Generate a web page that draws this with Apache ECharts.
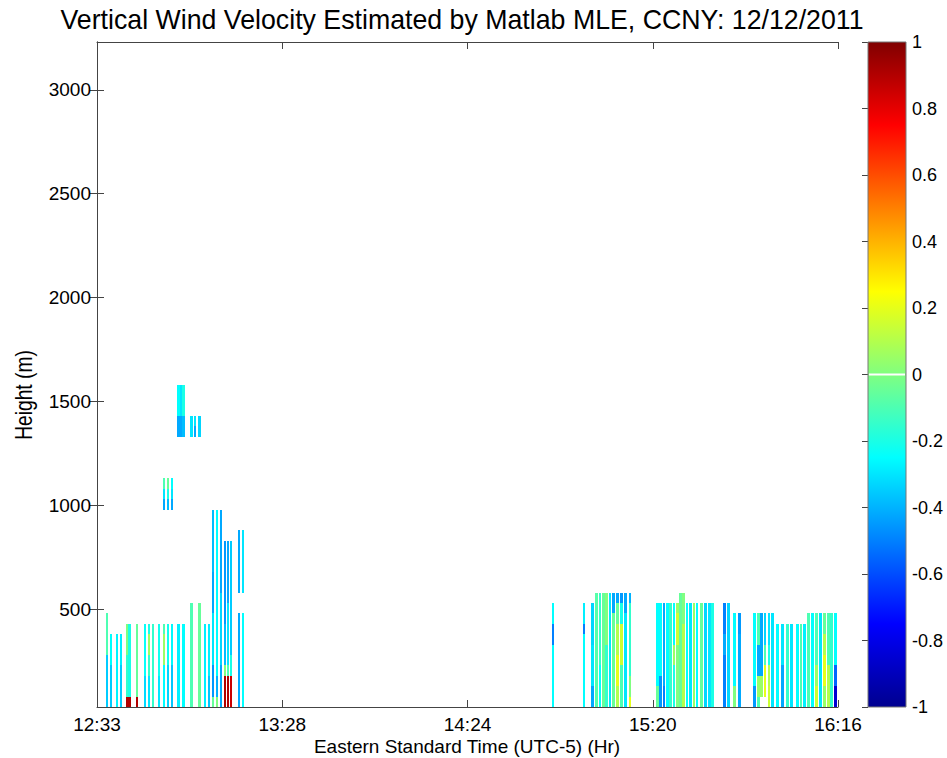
<!DOCTYPE html>
<html>
<head>
<meta charset="utf-8">
<script src="https://cdn.jsdelivr.net/npm/echarts@6/dist/echarts.min.js"></script>
<style>
  html, body { margin: 0; padding: 0; background: #fff; }
  #chart { width: 947px; height: 758px; }
</style>
</head>
<body>
<div id="chart"></div>
<script>
// Lidar vertical wind velocity (m/s), CCNY, 12 Dec 2011.
// Each profile: time in minutes after 12:33 EST, and a stack of range
// segments [segment top height (m), velocity] starting from the lowest gate.
// A null velocity marks gates with no retrieval.
const baseHeight = 30;

const profileTimes = [
  3.0, 4.2, 6.0, 7.2, 9.0, 9.8, 12.0, 14.4, 15.6, 16.9,
  18.7, 20.2, 21.4, 22.6, 24.5, 25.3, 26.0, 28.4, 29.5, 30.8,
  32.5, 33.7, 34.9, 36.1, 37.3, 38.5, 39.4, 40.3, 42.7, 43.9,
  137.2, 146.6, 149.1, 150.4, 151.4, 152.4, 153.4, 154.4, 155.4, 156.6,
  157.8, 159.0, 160.4, 168.6, 169.6, 170.6, 171.6, 172.6, 173.6, 174.6,
  175.7, 176.6, 177.6, 178.7, 179.7, 180.6, 181.9, 183.1, 184.3, 185.3,
  188.8, 190.0, 191.8, 193.3, 197.8, 199.0, 200.0, 201.0, 202.2, 203.2,
  204.8, 206.3, 207.9, 209.0, 210.9, 211.9, 212.9, 214.1, 215.3, 216.6,
  217.8, 218.9, 220.1, 221.1, 222.3
];

const profileSegments = [
  [[280, -0.35], [480, -0.1]],
  [[230, -0.35], [380, -0.25]],
  [[380, -0.27]],
  [[230, -0.35], [380, -0.28]],
  [[80, 0.9], [280, -0.15], [430, 0.0]],
  [[80, 0.9], [430, -0.2]],
  [[80, 0.9], [430, -0.05]],
  [[180, -0.32], [430, -0.24]],
  [[180, -0.3], [280, -0.15], [380, 0.05], [430, -0.2]],
  [[430, -0.15]],
  [[180, -0.3], [430, -0.22]],
  [[230, -0.25], [380, 0.05], [430, -0.1], [980, null], [1030, -0.42], [1080, -0.3], [1130, -0.1]],
  [[230, -0.33], [430, -0.22], [980, null], [1030, -0.38], [1080, -0.2], [1130, -0.05]],
  [[230, -0.36], [430, -0.26], [980, null], [1030, -0.42], [1080, -0.3], [1130, -0.25]],
  [[430, -0.28], [1330, null], [1430, -0.42], [1580, -0.25]],
  [[1330, null], [1430, -0.42], [1580, -0.3]],
  [[430, -0.25], [1330, null], [1430, -0.38], [1580, -0.2]],
  [[530, -0.1], [1330, null], [1430, -0.3]],
  [[1330, null], [1380, -0.42], [1430, -0.3]],
  [[530, -0.05], [1330, null], [1430, -0.33]],
  [[430, -0.28]],
  [[180, -0.36], [430, -0.28]],
  [[80, -0.05], [230, -0.45], [480, -0.3], [680, -0.42], [980, -0.38]],
  [[80, 0.0], [180, -0.4], [980, -0.25]],
  [[230, -0.42], [580, -0.33], [980, -0.42]],
  [[180, 0.9], [230, 0.0], [430, -0.38], [830, -0.45]],
  [[180, 0.9], [230, -0.1], [530, -0.3], [830, -0.42]],
  [[180, 0.85], [280, -0.2], [830, -0.35]],
  [[480, -0.42], [580, null], [880, -0.42]],
  [[480, -0.25], [580, null], [880, -0.3]],
  [[330, -0.25], [430, -0.5], [530, -0.25]],
  [[380, -0.25], [430, -0.5], [530, -0.28]],
  [[130, -0.42], [330, -0.3], [530, -0.33]],
  [[580, -0.08]],
  [[230, -0.25], [580, -0.15]],
  [[580, -0.05]],
  [[330, -0.15], [580, 0.0]],
  [[580, -0.3]],
  [[480, -0.05], [580, -0.42]],
  [[130, 0.1], [280, 0.2], [430, 0.1], [530, -0.05], [580, -0.42]],
  [[230, -0.1], [430, 0.15], [530, -0.2], [580, -0.45]],
  [[480, -0.3], [580, -0.42]],
  [[80, 0.2], [180, 0.0], [530, -0.15], [580, -0.4]],
  [[130, -0.05], [530, -0.25]],
  [[180, -0.45], [530, -0.25]],
  [[130, -0.5], [530, -0.42]],
  [[530, -0.25]],
  [[530, -0.15]],
  [[230, -0.2], [330, 0.05], [530, -0.25]],
  [[330, 0.0], [480, 0.15], [530, 0.05]],
  [[580, -0.05]],
  [[430, 0.1], [580, 0.0]],
  [[530, -0.25]],
  [[530, -0.3]],
  [[530, 0.05]],
  [[530, -0.25]],
  [[530, -0.05]],
  [[530, -0.33]],
  [[530, -0.3]],
  [[530, -0.2]],
  [[280, -0.5], [380, -0.42], [530, -0.5]],
  [[530, -0.33]],
  [[130, 0.0], [480, -0.25]],
  [[380, -0.42], [480, -0.45]],
  [[130, -0.45], [480, -0.25]],
  [[80, -0.1], [180, 0.05], [330, -0.42], [480, -0.1]],
  [[80, null], [180, 0.05], [480, -0.42]],
  [[80, null], [230, 0.2], [330, -0.1], [480, -0.33]],
  [[130, 0.15], [230, 0.1], [330, -0.2], [480, -0.3]],
  [[480, -0.3]],
  [[430, -0.25]],
  [[230, -0.42], [430, -0.3]],
  [[430, -0.15]],
  [[430, -0.3]],
  [[430, -0.25]],
  [[430, -0.1]],
  [[430, -0.28]],
  [[480, -0.1]],
  [[480, -0.25]],
  [[130, 0.15], [230, 0.05], [480, -0.1]],
  [[480, -0.3]],
  [[130, 0.05], [280, 0.2], [380, 0.1], [480, -0.05]],
  [[230, 0.1], [480, -0.1]],
  [[480, -0.15]],
  [[130, -0.85], [230, -0.55], [480, -0.25]]
];

// Axis ranges and tick labels
const timeRange = [0, 223];            // minutes after 12:33
const timeTickStep = 55.75;
const timeTickLabels = ['12:33', '13:28', '14:24', '15:20', '16:16'];
const heightRange = [30, 3230];
const heightTicks = [500, 1000, 1500, 2000, 2500, 3000];
const velocityRange = [-1, 1];
const velocityTickStep = 0.2;

// MATLAB "jet" colour map, evenly spaced over [-1, 1]
const jetColors = ['#00008f', '#0000ff', '#0080ff', '#00ffff', '#80ff80',
                   '#ffff00', '#ff8000', '#ff0000', '#800000'];

// Flatten the profiles into rectangles: [time, bottom, top, velocity]
const cells = [];
profileTimes.forEach(function (t, i) {
  let bottom = baseHeight;
  profileSegments[i].forEach(function (seg) {
    if (seg[1] !== null) cells.push([t, bottom, seg[0], seg[1]]);
    bottom = seg[0];
  });
});

const stripeHalfWidth = 0.4;   // minutes
const fontFamily = 'Liberation Sans, Arial, Helvetica, sans-serif';
const axisColor = '#444';
const textColor = '#000';

function renderCell(params, api) {
  const t = api.value(0);
  const p0 = api.coord([t - stripeHalfWidth, api.value(1)]);
  const p1 = api.coord([t + stripeHalfWidth, api.value(2)]);
  const x0 = Math.round(p0[0]);
  const x1 = Math.max(x0 + 2, Math.round(p1[0]));
  const yb = Math.round(p0[1]);
  const yt = Math.round(p1[1]);
  return {
    type: 'rect',
    shape: { x: x0, y: yt, width: x1 - x0, height: yb - yt },
    style: { fill: api.visual('color') }
  };
}

function renderColorbar(params, api) {
  const a = api.coord([0, velocityRange[0]]);
  const b = api.coord([1, velocityRange[1]]);
  const z0 = api.coord([0, 0]);
  const z1 = api.coord([1, 0]);
  const stops = jetColors.map(function (c, i) {
    return { offset: i / (jetColors.length - 1), color: c };
  });
  return {
    type: 'group',
    children: [
      {
        type: 'rect',
        shape: { x: a[0], y: b[1], width: b[0] - a[0], height: a[1] - b[1] },
        style: {
          fill: new echarts.graphic.LinearGradient(0, 1, 0, 0, stops),
          stroke: '#777', lineWidth: 1
        }
      },
      {
        type: 'line',
        shape: { x1: z0[0] + 1, y1: z0[1], x2: z1[0] - 1, y2: z1[1] },
        style: { stroke: '#fff', lineWidth: 2 }
      }
    ]
  };
}

const chart = echarts.init(document.getElementById('chart'), null, { renderer: 'svg' });

const tickStyle = { color: axisColor, width: 1 };

chart.setOption({
  backgroundColor: '#fff',
  animation: false,
  textStyle: { fontFamily: fontFamily, color: textColor },
  graphic: [
    {
      type: 'text', x: 462, y: 20, scaleX: 0.99,
      style: {
        text: 'Vertical Wind Velocity Estimated by Matlab MLE, CCNY: 12/12/2011',
        fontFamily: fontFamily, fontSize: 27, fill: textColor,
        align: 'center', verticalAlign: 'middle'
      }
    },
    {
      type: 'text', x: 24, y: 395, rotation: Math.PI / 2, scaleX: 0.8,
      style: {
        text: 'Height (m)', fontFamily: fontFamily, fontSize: 24, fill: textColor,
        align: 'center', verticalAlign: 'middle'
      }
    },
    {
      type: 'text', x: 467, y: 746,
      style: {
        text: 'Eastern Standard Time (UTC-5) (Hr)', fontFamily: fontFamily, fontSize: 19, fill: textColor,
        align: 'center', verticalAlign: 'middle'
      }
    }
  ],
  grid: [
    { left: 97, top: 42, width: 741, height: 665 },
    { left: 868, top: 42, width: 38, height: 665 }
  ],
  visualMap: {
    show: false,
    type: 'continuous',
    min: velocityRange[0], max: velocityRange[1],
    dimension: 3,
    seriesIndex: 0,
    inRange: { color: jetColors }
  },
  xAxis: [
    {
      gridIndex: 0, type: 'value', position: 'bottom',
      min: timeRange[0], max: timeRange[1], interval: timeTickStep,
      axisLine: { show: true, lineStyle: { color: axisColor } },
      axisTick: { show: true, inside: true, length: 7, lineStyle: tickStyle },
      axisLabel: {
        fontSize: 19, color: textColor, margin: 8, fontFamily: fontFamily,
        formatter: function (v) { return timeTickLabels[Math.round(v / timeTickStep)]; }
      },
      splitLine: { show: false }
    },
    {
      gridIndex: 0, type: 'value', position: 'top',
      min: timeRange[0], max: timeRange[1], interval: timeTickStep,
      axisLine: { show: true, lineStyle: { color: axisColor } },
      axisTick: { show: true, inside: true, length: 7, lineStyle: tickStyle },
      axisLabel: { show: false },
      splitLine: { show: false }
    },
    {
      gridIndex: 1, type: 'value', min: 0, max: 1, show: false
    }
  ],
  yAxis: [
    {
      gridIndex: 0, type: 'value', position: 'left',
      min: heightRange[0], max: heightRange[1],
      axisLine: { show: true, lineStyle: { color: axisColor } },
      axisTick: { show: true, inside: true, length: 7, lineStyle: tickStyle, customValues: heightTicks },
      axisLabel: {
        fontSize: 19, color: textColor, margin: 6, fontFamily: fontFamily,
        customValues: heightTicks,
        formatter: function (v) { return String(v); }
      },
      splitLine: { show: false }
    },
    {
      gridIndex: 0, type: 'value', position: 'right',
      min: heightRange[0], max: heightRange[1],
      axisLine: { show: true, lineStyle: { color: axisColor } },
      axisTick: { show: true, inside: true, length: 7, lineStyle: tickStyle, customValues: heightTicks },
      axisLabel: { show: false, customValues: heightTicks },
      splitLine: { show: false }
    },
    {
      gridIndex: 1, type: 'value', position: 'right',
      min: velocityRange[0], max: velocityRange[1], interval: velocityTickStep,
      axisLine: { show: false },
      axisTick: { show: true, inside: true, length: 6, lineStyle: tickStyle },
      axisLabel: {
        fontSize: 18, color: textColor, margin: 6, fontFamily: fontFamily,
        formatter: function (v) { return String(Math.round(v * 10) / 10); }
      },
      splitLine: { show: false }
    }
  ],
  series: [
    {
      type: 'custom',
      xAxisIndex: 0, yAxisIndex: 0,
      renderItem: renderCell,
      encode: { x: 0, y: [1, 2] },
      clip: true,
      data: cells,
      z: 2
    },
    {
      type: 'custom',
      xAxisIndex: 2, yAxisIndex: 2,
      renderItem: renderColorbar,
      data: [[0, 0]],
      silent: true,
      z: 1
    }
  ]
});
</script>
</body>
</html>
